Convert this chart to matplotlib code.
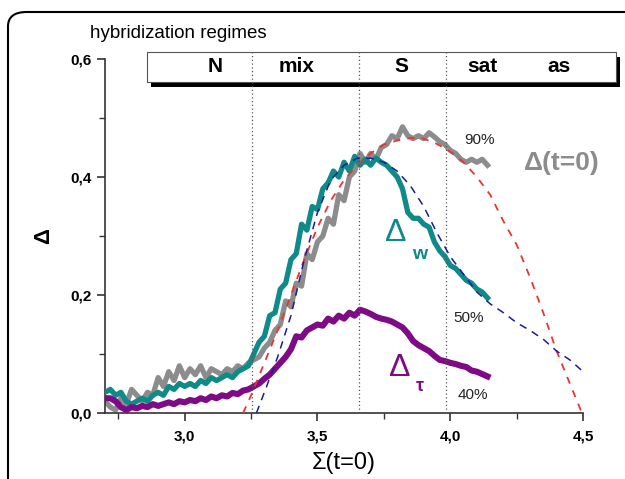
import numpy as np
import matplotlib
matplotlib.use("Agg")
import matplotlib.pyplot as plt
from matplotlib.patches import Rectangle, FancyBboxPatch

plt.rcParams['font.family'] = ['Liberation Sans', 'DejaVu Sans']

# ---------------- data ----------------
sigma = np.round(np.arange(2.70, 4.141, 0.02), 2)

delta_t0 = [0.02, 0.01, 0.005, 0.025, 0.015, 0.04, 0.03, 0.02, 0.035, 0.03,
            0.06, 0.045, 0.07, 0.055, 0.08, 0.06, 0.075, 0.065, 0.08, 0.06,
            0.075, 0.07, 0.065, 0.075, 0.07, 0.08, 0.075, 0.085, 0.09, 0.095,
            0.11, 0.12, 0.14, 0.15, 0.19, 0.18, 0.22, 0.215, 0.27, 0.26,
            0.29, 0.30, 0.33, 0.32, 0.37, 0.36, 0.40, 0.41, 0.44, 0.425,
            0.44, 0.43, 0.45, 0.455, 0.47, 0.465, 0.485, 0.47, 0.465, 0.47,
            0.465, 0.475, 0.468, 0.46, 0.455, 0.445, 0.44, 0.43, 0.425, 0.43,
            0.425, 0.43, 0.42]

delta_w = [0.035, 0.04, 0.03, 0.035, 0.02, 0.015, 0.02, 0.025, 0.02, 0.03,
           0.035, 0.03, 0.045, 0.04, 0.05, 0.045, 0.05, 0.045, 0.055, 0.05,
           0.06, 0.055, 0.06, 0.065, 0.06, 0.07, 0.075, 0.08, 0.10, 0.12,
           0.13, 0.165, 0.17, 0.21, 0.22, 0.26, 0.27, 0.32, 0.31, 0.35,
           0.345, 0.38, 0.39, 0.41, 0.40, 0.425, 0.41, 0.435, 0.42, 0.43,
           0.42, 0.432, 0.425, 0.42, 0.41, 0.40, 0.38, 0.34, 0.33, 0.33,
           0.32, 0.315, 0.29, 0.275, 0.265, 0.25, 0.245, 0.235, 0.225, 0.22,
           0.21, 0.205, 0.195]

delta_tau = [0.025, 0.025, 0.02, 0.01, 0.005, 0.01, 0.008, 0.012, 0.01, 0.015,
             0.012, 0.015, 0.018, 0.015, 0.02, 0.018, 0.022, 0.02, 0.025, 0.022,
             0.028, 0.025, 0.03, 0.028, 0.034, 0.032, 0.038, 0.04, 0.045, 0.05,
             0.058, 0.065, 0.075, 0.085, 0.095, 0.108, 0.13, 0.128, 0.14, 0.145,
             0.15, 0.148, 0.16, 0.155, 0.165, 0.16, 0.17, 0.165, 0.175, 0.172,
             0.168, 0.163, 0.16, 0.158, 0.155, 0.15, 0.145, 0.135, 0.122, 0.115,
             0.11, 0.105, 0.097, 0.09, 0.088, 0.085, 0.083, 0.08, 0.078, 0.072,
             0.07, 0.066, 0.062]

fit_red_x = [3.22, 3.25, 3.30, 3.35, 3.40, 3.45, 3.50, 3.55, 3.60, 3.65, 3.70,
             3.75, 3.80, 3.85, 3.90, 3.95, 4.00, 4.05, 4.10, 4.15, 4.20, 4.25,
             4.30, 4.35, 4.40, 4.45, 4.50]
fit_red_y = [0.0, 0.03, 0.085, 0.14, 0.20, 0.26, 0.315, 0.36, 0.395, 0.42, 0.44,
             0.455, 0.462, 0.466, 0.465, 0.456, 0.443, 0.425, 0.40, 0.37, 0.325,
             0.285, 0.23, 0.17, 0.105, 0.05, -0.005]

fit_blue_x = [3.27, 3.30, 3.35, 3.40, 3.45, 3.50, 3.55, 3.60, 3.65, 3.70, 3.75,
              3.80, 3.85, 3.90, 3.95, 4.00, 4.05, 4.10, 4.15, 4.20, 4.25, 4.30,
              4.35, 4.40, 4.45, 4.50]
fit_blue_y = [0.0, 0.035, 0.095, 0.165, 0.26, 0.34, 0.395, 0.42, 0.432, 0.432,
              0.425, 0.41, 0.385, 0.35, 0.305, 0.265, 0.235, 0.205, 0.185, 0.17,
              0.153, 0.14, 0.125, 0.105, 0.09, 0.07]

regime_bounds = [3.255, 3.655, 3.985]
regime_names = ['N', 'mix', 'S', 'sat', 'as']
regime_label_x = [3.114, 3.42, 3.817, 4.12, 4.41]

xticks = [3.0, 3.5, 4.0, 4.5]
xtick_labels = ['3,0', '3,5', '4,0', '4,5']
yticks = [0.0, 0.2, 0.4, 0.6]
ytick_labels = ['0,0', '0,2', '0,4', '0,6']

# ---------------- figure ----------------
fig = plt.figure(figsize=(6.25, 4.79), dpi=100)
ax = fig.add_axes([0.168, 0.1378, 0.765, 0.739])

GRAY = '#8c8c8c'
TEAL = '#108a88'
PURPLE = '#7f0a86'

ax.plot(sigma, delta_t0, color=GRAY, lw=3.8, solid_joinstyle='round', zorder=2)
ax.plot(sigma, delta_w, color=TEAL, lw=3.8, solid_joinstyle='round', zorder=3)
ax.plot(sigma, delta_tau, color=PURPLE, lw=4.4, solid_joinstyle='round', zorder=4)
ax.plot(fit_red_x, fit_red_y, color='#e8352f', lw=1.3, ls=(0, (4, 4)), zorder=5)
ax.plot(fit_blue_x, fit_blue_y, color='#1c1c9a', lw=1.1, ls=(0, (5, 4)), zorder=5)

ax.set_xlim(2.7, 4.5)
ax.set_ylim(0.0, 0.6)

# regime box with shadow
box_x0, box_x1 = 2.86, 4.625
box_y0, box_y1 = 0.561, 0.612
ax.add_patch(Rectangle((box_x0 + 0.015, box_y0 - 0.008), box_x1 - box_x0,
                       box_y1 - box_y0, facecolor='black', edgecolor='none',
                       clip_on=False, zorder=6))
ax.add_patch(Rectangle((box_x0, box_y0), box_x1 - box_x0, box_y1 - box_y0,
                       facecolor='white', edgecolor='#555555', lw=0.8,
                       clip_on=False, zorder=7))
for xb in regime_bounds:
    ax.plot([xb, xb], [0, box_y1], color='#555555', lw=0.9, ls=(0, (1, 2)),
            clip_on=False, zorder=8)
for name, xl in zip(regime_names, regime_label_x):
    ax.text(xl, (box_y0 + box_y1) / 2, name, ha='center', va='center',
            fontsize=15, fontweight='bold', zorder=9)

fig.text(90 / 625, 1 - 33 / 479, 'hybridization regimes', fontsize=13.5,
         ha='left', va='center')

# annotations
ax.text(4.11, 0.462, '90%', fontsize=11, ha='center', va='center', color='#222222')
ax.text(4.07, 0.161, '50%', fontsize=11, ha='center', va='center', color='#222222')
ax.text(4.085, 0.03, '40%', fontsize=11, ha='center', va='center', color='#222222')
ax.text(4.42, 0.424, 'Δ(t=0)', fontsize=19, ha='center', va='center',
        color='#8c8c8c', fontweight='bold')
ax.text(3.795, 0.305, 'Δ', fontsize=23, ha='center', va='center', color=TEAL)
ax.text(3.885, 0.268, 'w', fontsize=14, ha='center', va='center', color=TEAL,
        fontweight='bold')
ax.text(3.81, 0.076, 'Δ', fontsize=23, ha='center', va='center', color=PURPLE)
ax.text(3.885, 0.045, 'τ', fontsize=13, ha='center', va='center', color=PURPLE,
        fontweight='bold')

# axes styling
for s in ['top', 'right']:
    ax.spines[s].set_visible(False)
for s in ['left', 'bottom']:
    ax.spines[s].set_color('#333333')
    ax.spines[s].set_linewidth(1.2)
ax.set_xticks(xticks)
ax.set_xticklabels(xtick_labels, fontweight='bold', fontsize=11)
ax.set_xticks([2.75, 3.25, 3.75, 4.25], minor=True)
ax.set_yticks(yticks)
ax.set_yticklabels(ytick_labels, fontweight='bold', fontsize=11)
ax.set_yticks([0.1, 0.3, 0.5], minor=True)
ax.tick_params(which='major', direction='out', length=6, width=1.2, color='#333333')
ax.tick_params(axis='x', which='major', pad=6)
ax.tick_params(which='minor', direction='out', length=4, width=1.0, color='#333333')

ax.set_xlabel('Σ(t=0)', fontsize=17, labelpad=6)
ax.set_ylabel('Δ', fontsize=16, fontweight='bold', labelpad=12)

# figure frame (rounded)
frame = FancyBboxPatch((8 / 625, -0.2), 1.2, 1 - 12 / 479 + 0.2,
                       boxstyle='round,pad=0,rounding_size=0.03',
                       transform=fig.transFigure, facecolor='none',
                       edgecolor='black', lw=1.5, clip_on=False)
fig.patches.append(frame)

fig.savefig('out.png', dpi=100)
